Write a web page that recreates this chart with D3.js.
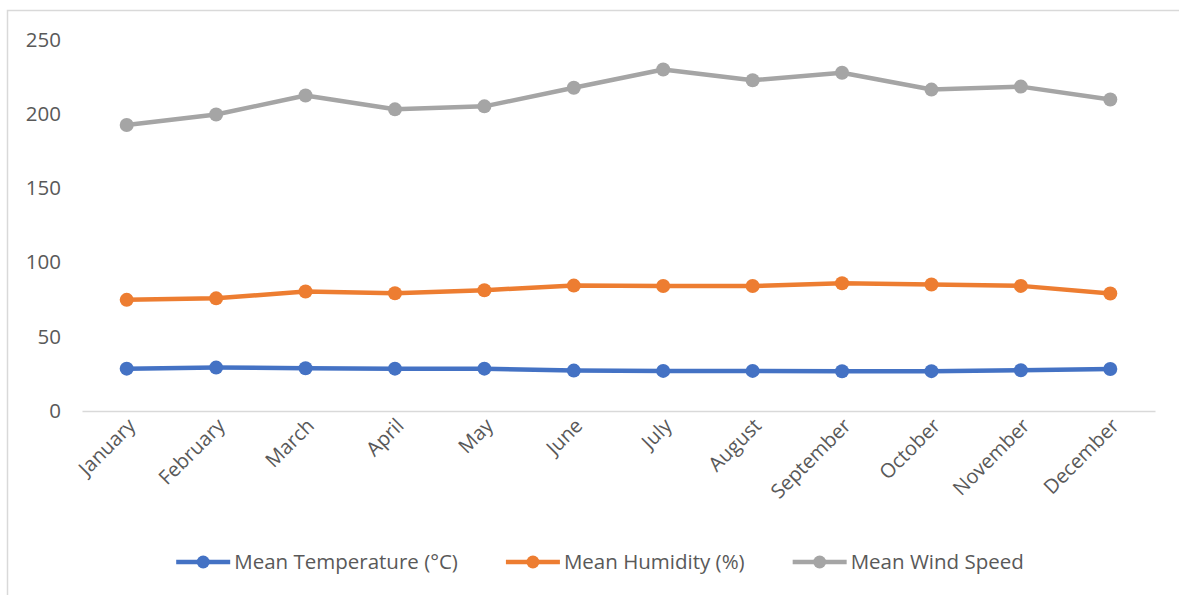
<!DOCTYPE html>
<html>
<head>
<meta charset="utf-8">
<script src="https://cdn.jsdelivr.net/npm/d3@7"></script>
<style>
  body { margin: 0; background: #fff; }
  svg text { font-family: "Open Sans", sans-serif; fill: #595959; }
</style>
</head>
<body>
<svg id="chart" width="1179" height="595"></svg>
<script>
const months = ['January','February','March','April','May','June','July','August','September','October','November','December'];
const temperature = [28.5, 29.2, 28.8, 28.5, 28.5, 27.2, 27.0, 27.0, 26.7, 26.8, 27.4, 28.3];
const humidity = [74.8, 75.8, 80.4, 79.2, 81.3, 84.4, 84.1, 84.1, 86.0, 85.1, 84.2, 79.1];
const windSpeed = [192.5, 199.5, 212.3, 203.0, 205.0, 217.5, 229.8, 222.6, 227.6, 216.3, 218.3, 209.6];
const yTicks = [0, 50, 100, 150, 200, 250];
const seriesNames = ['Mean Temperature (°C)', 'Mean Humidity (%)', 'Mean Wind Speed'];
const seriesColors = ['#4472c4', '#ed7d31', '#a5a5a5'];

const series = [temperature, humidity, windSpeed].map((values, i) => ({
  name: seriesNames[i], color: seriesColors[i], values
}));

const svg = d3.select('#chart');
const plot = { left: 82, right: 1155, top: 39.5, bottom: 411 };

// chart area border
svg.append('rect')
  .attr('x', 7.5).attr('y', 10.5)
  .attr('width', 1190).attr('height', 600)
  .attr('fill', 'none')
  .attr('stroke', '#d9d9d9')
  .attr('stroke-width', 1.5);

const x = d3.scaleBand().domain(months).range([plot.left, plot.right]);
const y = d3.scaleLinear().domain([0, 250]).range([plot.bottom, plot.top]);

// y axis labels only
const yAxis = svg.append('g')
  .attr('transform', `translate(${plot.left},0)`)
  .call(d3.axisLeft(y).tickValues(yTicks).tickSize(0).tickPadding(21));
yAxis.select('.domain').remove();
yAxis.selectAll('text').style('font-size', '20.5px').attr('fill', '#595959');

// x axis
const xAxis = svg.append('g')
  .attr('transform', `translate(0,${plot.bottom})`)
  .call(d3.axisBottom(x).tickSize(0).tickPadding(0));
xAxis.select('.domain').attr('stroke', '#d9d9d9').attr('stroke-width', 1.5);
xAxis.selectAll('text')
  .style('font-size', '20px')
  .attr('fill', '#595959')
  .attr('text-anchor', 'end')
  .attr('dy', 0)
  .attr('transform', 'translate(10,16) rotate(-45)');

const line = d3.line()
  .x((d, i) => x(months[i]) + x.bandwidth() / 2)
  .y(d => y(d));

const g = svg.append('g');
series.forEach(s => {
  g.append('path')
    .datum(s.values)
    .attr('fill', 'none')
    .attr('stroke', s.color)
    .attr('stroke-width', 4.5)
    .attr('stroke-linejoin', 'round')
    .attr('d', line);
  g.selectAll(null)
    .data(s.values)
    .enter().append('circle')
      .attr('cx', (d, i) => x(months[i]) + x.bandwidth() / 2)
      .attr('cy', d => y(d))
      .attr('r', 7)
      .attr('fill', s.color);
});

// legend
const legend = svg.append('g').attr('transform', 'translate(0,562)');
const items = legend.selectAll('g.item').data(series).enter()
  .append('g').attr('class', 'item');
items.append('line')
  .attr('x1', 0).attr('x2', 54)
  .attr('stroke', d => d.color)
  .attr('stroke-width', 4.5);
items.append('circle')
  .attr('cx', 27).attr('r', 6.5)
  .attr('fill', d => d.color);
items.append('text')
  .attr('x', 58).attr('dy', '0.35em')
  .style('font-size', '20.5px')
  .text(d => d.name);

const gap = 48;
let widths = [];
items.each(function() { widths.push(this.getBBox().width); });
const total = d3.sum(widths) + gap * (widths.length - 1);
let cursor = 600 - total / 2;
items.attr('transform', (d, i) => {
  const t = `translate(${cursor},0)`;
  cursor += widths[i] + gap;
  return t;
});
</script>
</body>
</html>
